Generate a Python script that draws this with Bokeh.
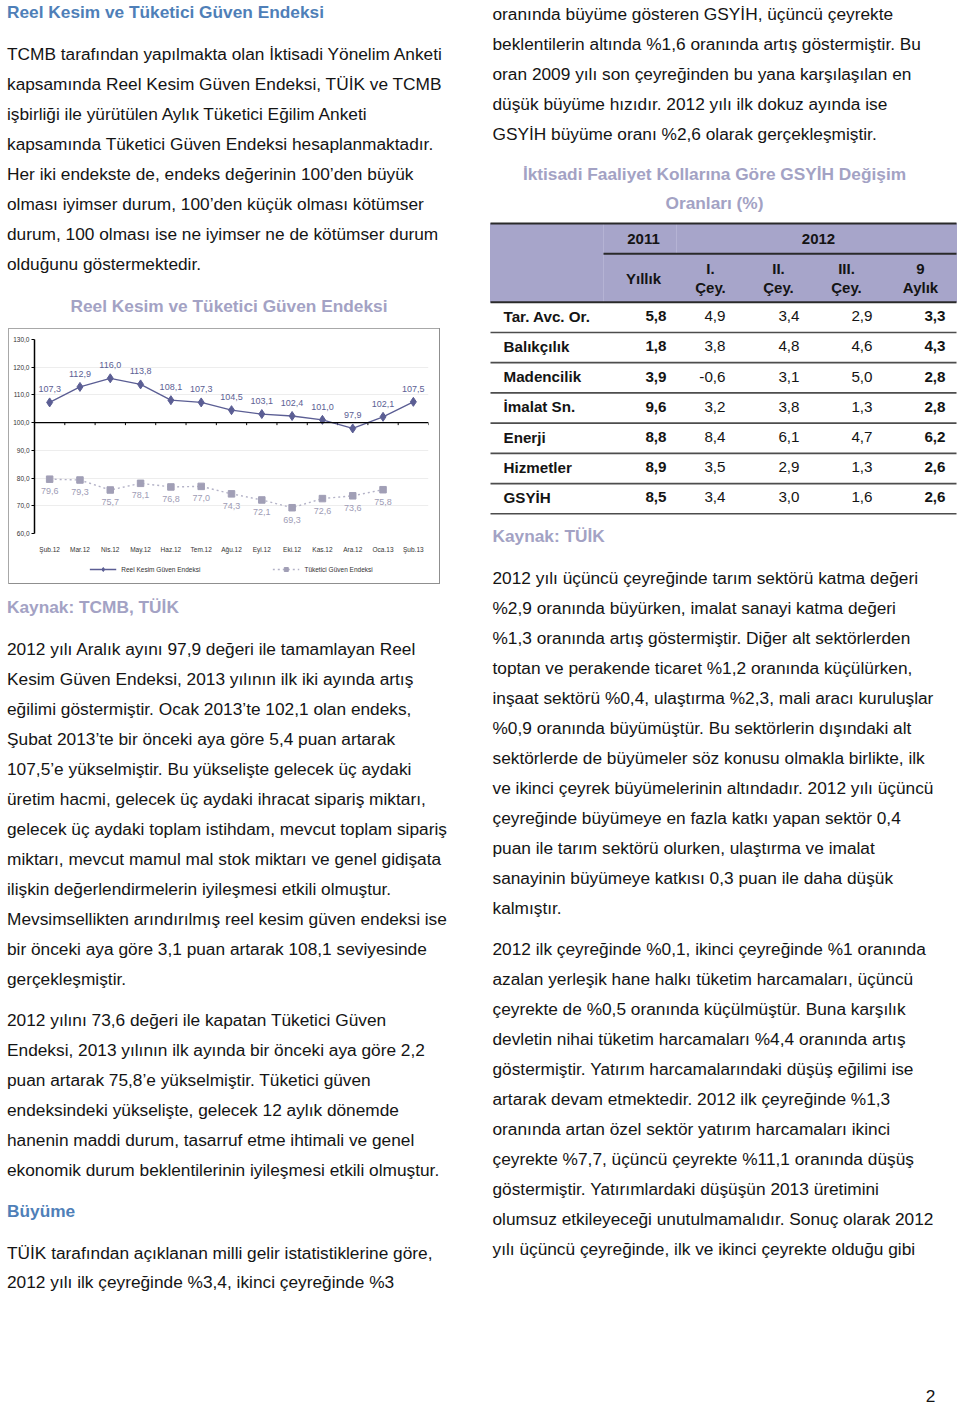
from bokeh.plotting import figure
from bokeh.models import (Range1d, Span, Legend, LegendItem, FixedTicker, Spacer)
from bokeh.layouts import row, column
from bokeh.embed import file_html
from bokeh.resources import INLINE
from bokeh.core.properties import value

# ---------------- data ----------------
months = ["Şub.12", "Mar.12", "Nis.12", "May.12", "Haz.12", "Tem.12", "Ağu.12",
          "Eyl.12", "Eki.12", "Kas.12", "Ara.12", "Oca.13", "Şub.13"]
reel_kesim = [107.3, 112.9, 116.0, 113.8, 108.1, 107.3, 104.5, 103.1, 102.4,
              101.0, 97.9, 102.1, 107.5]
tuketici = [79.6, 79.3, 75.7, 78.1, 76.8, 77.0, 74.3, 72.1, 69.3, 72.6, 73.6, 75.8]
y_ticks = [60, 70, 80, 90, 100, 110, 120, 130]
series_names = ["Reel Kesim Güven Endeksi", "Tüketici Güven Endeksi"]

sectors = ["Tar. Avc. Or.", "Balıkçılık", "Madencilik", "İmalat Sn.", "Enerji",
           "Hizmetler", "GSYİH"]
yillik_2011 = [5.8, 1.8, 3.9, 9.6, 8.8, 8.9, 8.5]
cey1_2012 = [4.9, 3.8, -0.6, 3.2, 8.4, 3.5, 3.4]
cey2_2012 = [3.4, 4.8, 3.1, 3.8, 6.1, 2.9, 3.0]
cey3_2012 = [2.9, 4.6, 5.0, 1.3, 4.7, 1.3, 1.6]
aylik9_2012 = [3.3, 4.3, 2.8, 2.8, 6.2, 2.6, 2.6]
year_headers = ["2011", "2012"]
col_head_top = ["", "I.", "II.", "III.", "9"]
col_head_bottom = ["Yıllık", "Çey.", "Çey.", "Çey.", "Aylık"]

head1 = "Reel Kesim ve Tüketici Güven Endeksi"
para1 = [
    "TCMB tarafından yapılmakta olan İktisadi Yönelim Anketi",
    "kapsamında Reel Kesim Güven Endeksi, TÜİK ve TCMB",
    "işbirliği ile yürütülen Aylık Tüketici Eğilim Anketi",
    "kapsamında Tüketici Güven Endeksi hesaplanmaktadır.",
    "Her iki endekste de, endeks değerinin 100’den büyük",
    "olması iyimser durum, 100’den küçük olması kötümser",
    "durum, 100 olması ise ne iyimser ne de kötümser durum",
    "olduğunu göstermektedir.",
]
chart_title = "Reel Kesim ve Tüketici Güven Endeksi"
source1 = "Kaynak: TCMB, TÜİK"
para2 = [
    "2012 yılı Aralık ayını 97,9 değeri ile tamamlayan Reel",
    "Kesim Güven Endeksi, 2013 yılının ilk iki ayında artış",
    "eğilimi göstermiştir. Ocak 2013’te 102,1 olan endeks,",
    "Şubat 2013’te bir önceki aya göre 5,4 puan artarak",
    "107,5’e yükselmiştir. Bu yükselişte gelecek üç aydaki",
    "üretim hacmi, gelecek üç aydaki ihracat sipariş miktarı,",
    "gelecek üç aydaki toplam istihdam, mevcut toplam sipariş",
    "miktarı, mevcut mamul mal stok miktarı ve genel gidişata",
    "ilişkin değerlendirmelerin iyileşmesi etkili olmuştur.",
    "Mevsimsellikten arındırılmış reel kesim güven endeksi ise",
    "bir önceki aya göre 3,1 puan artarak 108,1 seviyesinde",
    "gerçekleşmiştir.",
]
para3 = [
    "2012 yılını 73,6 değeri ile kapatan Tüketici Güven",
    "Endeksi, 2013 yılının ilk ayında bir önceki aya göre 2,2",
    "puan artarak 75,8’e yükselmiştir. Tüketici güven",
    "endeksindeki yükselişte, gelecek 12 aylık dönemde",
    "hanenin maddi durum, tasarruf etme ihtimali ve genel",
    "ekonomik durum beklentilerinin iyileşmesi etkili olmuştur.",
]
head2 = "Büyüme"
para4 = [
    "TÜİK tarafından açıklanan milli gelir istatistiklerine göre,",
    "2012 yılı ilk çeyreğinde %3,4, ikinci çeyreğinde %3",
]
para5 = [
    "oranında büyüme gösteren GSYİH, üçüncü çeyrekte",
    "beklentilerin altında %1,6 oranında artış göstermiştir. Bu",
    "oran 2009 yılı son çeyreğinden bu yana karşılaşılan en",
    "düşük büyüme hızıdır. 2012 yılı ilk dokuz ayında ise",
    "GSYİH büyüme oranı %2,6 olarak gerçekleşmiştir.",
]
table_title = ["İktisadi Faaliyet Kollarına Göre GSYİH Değişim", "Oranları (%)"]
source2 = "Kaynak: TÜİK"
para6 = [
    "2012 yılı üçüncü çeyreğinde tarım sektörü katma değeri",
    "%2,9 oranında büyürken, imalat sanayi katma değeri",
    "%1,3 oranında artış göstermiştir. Diğer alt sektörlerden",
    "toptan ve perakende ticaret %1,2 oranında küçülürken,",
    "inşaat sektörü %0,4, ulaştırma %2,3, mali aracı kuruluşlar",
    "%0,9 oranında büyümüştür. Bu sektörlerin dışındaki alt",
    "sektörlerde de büyümeler söz konusu olmakla birlikte, ilk",
    "ve ikinci çeyrek büyümelerinin altındadır. 2012 yılı üçüncü",
    "çeyreğinde büyümeye en fazla katkı yapan sektör 0,4",
    "puan ile tarım sektörü olurken, ulaştırma ve imalat",
    "sanayinin büyümeye katkısı 0,3 puan ile daha düşük",
    "kalmıştır.",
]
para7 = [
    "2012 ilk çeyreğinde %0,1, ikinci çeyreğinde %1 oranında",
    "azalan yerleşik hane halkı tüketim harcamaları, üçüncü",
    "çeyrekte de %0,5 oranında küçülmüştür. Buna karşılık",
    "devletin nihai tüketim harcamaları %4,4 oranında artış",
    "göstermiştir. Yatırım harcamalarındaki düşüş eğilimi ise",
    "artarak devam etmektedir. 2012 ilk çeyreğinde %1,3",
    "oranında artan özel sektör yatırım harcamaları ikinci",
    "çeyrekte %7,7, üçüncü çeyrekte %11,1 oranında düşüş",
    "göstermiştir. Yatırımlardaki düşüşün 2013 üretimini",
    "olumsuz etkileyeceği unutulmamalıdır. Sonuç olarak 2012",
    "yılı üçüncü çeyreğinde, ilk ve ikinci çeyrekte olduğu gibi",
]
page_no = "2"

# ---------------- styles ----------------
FONT = "Liberation Sans"
BODY = "17.3px"
BLACK = "#141414"
BLUE = "#4f7fb8"
LAV = "#a3a2c4"
REEL_C = "#5b5e94"
TUK_C = "#a19fb6"
TUK_LINE = "#b3b2c7"
BOX_C = "#a8a8a8"


def fmt(v):
    return f"{v:.1f}".replace(".", ",")


def page_fig(width, height, x0, x1, y0, y1):
    p = figure(width=width, height=height, x_range=Range1d(x0, x1),
               y_range=Range1d(y1, y0), x_axis_location=None,
               y_axis_location=None, toolbar_location=None,
               output_backend="svg", min_border=0, outline_line_color=None)
    p.grid.visible = False
    return p


def txt(p, x, ys, lines, size=BODY, color=BLACK, style="normal", align="left"):
    if isinstance(x, (int, float)):
        x = [x] * len(lines)
    p.text(x=x, y=ys, text=lines, text_font=value(FONT), text_font_size=size,
           text_color=color, text_font_style=style, text_align=align,
           text_baseline="middle")


def para(p, x, y0, lines, step=30.0, **kw):
    txt(p, x, [y0 + step * i for i in range(len(lines))], lines, **kw)


def bar(w, h, color=BOX_C):
    return Spacer(width=w, height=h, styles={"background-color": color})


# ---------------- left column ----------------
L1 = page_fig(480, 328, 0, 480, 0, 328)
txt(L1, 6.5, [11.5], [head1], color=BLUE, style="bold")
para(L1, 6.5, 53.5, para1)
txt(L1, 228.5, [305], [chart_title], color=LAV, style="bold", align="center")

# chart (inner canvas 430 x 226 + legend strip 430 x 28, framed by 1px bars)
c = figure(width=430, height=226, x_range=Range1d(-0.5, len(months) - 0.5),
           y_range=Range1d(min(y_ticks), max(y_ticks)), toolbar_location=None,
           output_backend="svg", min_border_left=25, min_border_right=11,
           min_border_top=10, min_border_bottom=15)
c.outline_line_color = None
c.xgrid.visible = False
c.ygrid.grid_line_color = "#ededed"
c.ygrid.ticker = FixedTicker(ticks=y_ticks)

c.yaxis.ticker = FixedTicker(ticks=y_ticks)
c.yaxis.major_label_overrides = {t: fmt(t) for t in y_ticks}
c.yaxis.axis_line_color = "#000000"
c.yaxis.axis_line_width = 1.5
c.yaxis.major_tick_out = 3
c.yaxis.major_tick_in = 0
c.yaxis.major_tick_line_color = "#000000"
c.yaxis.minor_tick_line_color = None
c.yaxis.major_label_standoff = 2

c.xaxis.ticker = FixedTicker(ticks=list(range(len(months))))
c.xaxis.major_label_overrides = {i: m for i, m in enumerate(months)}
c.xaxis.axis_line_color = None
c.xaxis.major_tick_line_color = None
c.xaxis.minor_tick_line_color = None
c.xaxis.major_label_standoff = 6

for ax in (c.xaxis, c.yaxis):
    ax.major_label_text_font = FONT
    ax.major_label_text_font_size = "6.5px"
    ax.major_label_text_color = "#333333"

c.add_layout(Span(location=100, dimension="width", line_color="#000000",
                  line_width=1.3))
bounds = [i + 0.5 for i in range(len(months))]
c.segment(x0=bounds, y0=[100] * len(bounds), x1=bounds, y1=[99.1] * len(bounds),
          line_color="#000000", line_width=1)

xr = list(range(len(reel_kesim)))
xt = list(range(len(tuketici)))
c.line(xr, reel_kesim, line_color=REEL_C, line_width=1.3)
c.scatter(xr, reel_kesim, marker="diamond", size=9, color=REEL_C)
c.text(xr, reel_kesim, text=[fmt(v) for v in reel_kesim], y_offset=-13,
       text_align="center", text_baseline="middle", text_font=value(FONT),
       text_font_size="9px", text_color=REEL_C)

c.line(xt, tuketici, line_color=TUK_LINE, line_width=1.4, line_dash="2 3")
c.scatter(xt, tuketici, marker="square", size=6.5, color=TUK_C)
c.text(xt, tuketici, text=[fmt(v) for v in tuketici], y_offset=12,
       text_align="center", text_baseline="middle", text_font=value(FONT),
       text_font_size="9px", text_color="#9e9cb5")

# legend strip: same series drawn again, but outside this strip's visible
# range, so only the legend glyphs show
lf = figure(width=430, height=28, x_range=Range1d(-0.5, len(months) - 0.5),
            y_range=Range1d(0, 1),
            x_axis_location=None, y_axis_location=None, toolbar_location=None,
            output_backend="svg", min_border_left=25, min_border_right=11,
            min_border_top=0, min_border_bottom=0, outline_line_color=None)
lf.grid.visible = False
lg_l1 = lf.line(xr, reel_kesim, line_color=REEL_C, line_width=1.3)
lg_p1 = lf.scatter(xr, reel_kesim, marker="diamond", size=7, color=REEL_C)
lg_l2 = lf.line(xt, tuketici, line_color=TUK_LINE, line_width=1.4, line_dash="2 3")
lg_p2 = lf.scatter(xt, tuketici, marker="square", size=5, color=TUK_C)
leg = Legend(items=[LegendItem(label=series_names[0], renderers=[lg_l1, lg_p1]),
                    LegendItem(label=series_names[1], renderers=[lg_l2, lg_p2])],
             orientation="horizontal", location="center", spacing=72,
             glyph_width=27, glyph_height=10, label_standoff=5, padding=0,
             margin=0, border_line_color=None, background_fill_color=None,
             label_text_font=FONT, label_text_font_size="6.5px",
             label_text_color="#333333")
lf.add_layout(leg)

chart_box = row(
    Spacer(width=8, height=256),
    bar(1, 256),
    column(bar(430, 1), c, lf, bar(430, 1, "#8f8f8f")),
    bar(1, 256, "#8f8f8f"),
)

L3 = page_fig(480, 820, 0, 480, 584, 1404)
txt(L3, 6.5, [606.7], [source1], color=LAV, style="bold")
para(L3, 6.5, 648.5, para2)
para(L3, 6.5, 1019.0, para3)
txt(L3, 6.5, [1210.7], [head2], color=BLUE, style="bold")
para(L3, 6.5, 1252.3, para4, step=29.5)

left_col = column(L1, chart_box, L3)

# ---------------- right column ----------------
RX0, RX1 = 480, 959
RW = RX1 - RX0
R1 = page_fig(RW, 215, RX0, RX1, 0, 215)
para(R1, 492, 13.0, para5)
txt(R1, 714, [173.3, 202.7], table_title, color=LAV, style="bold", align="center")

R2 = page_fig(RW, 305, RX0, RX1, 215, 520)
TL, TR = 490, 956
R2.quad(left=[TL], right=[TR], top=[223], bottom=[301.7], color="#a7a5ca")
R2.segment(x0=[603, 676], y0=[223, 223], x1=[603, 676], y1=[301.7, 253],
           line_color="#b5b3d4", line_width=1)
row_h = 30.23
row_top = 301.7
n = len(sectors)
row_lines = [row_top + row_h * (i + 1) for i in range(n)]
R2.segment(x0=[TL] * n, y0=row_lines, x1=[TR] * n, y1=row_lines,
           line_color="#4d4d4d", line_width=1.6)
R2.segment(x0=[TL, 603, TL], y0=[223, 253.3, row_top], x1=[TR, TR, TR],
           y1=[223, 253.3, row_top], line_color="#2a2a2a", line_width=2)

HS = "15px"
txt(R2, [643, 818], [238, 238], year_headers, size=HS, style="bold", align="center")
head_x = [643, 710, 778, 846, 920]
txt(R2, head_x[1:], [268] * 4, col_head_top[1:], size=HS, style="bold", align="center")
txt(R2, head_x, [278, 287, 287, 287, 287], col_head_bottom, size=HS, style="bold",
    align="center")

row_y = [row_top + row_h * (i + 0.5) - 1.2 for i in range(n)]
txt(R2, 503, row_y, sectors, size="15.2px", style="bold")
cols = [(666, yillik_2011, "bold"), (725, cey1_2012, "normal"),
        (799, cey2_2012, "normal"), (872, cey3_2012, "normal"),
        (945, aylik9_2012, "bold")]
for xpos, vals, st in cols:
    txt(R2, xpos, row_y, [fmt(v) for v in vals], size="15.2px", style=st,
        align="right")

R3 = page_fig(RW, 884, RX0, RX1, 520, 1404)
txt(R3, 492, [535], [source2], color=LAV, style="bold")
para(R3, 492, 577.0, para6)
para(R3, 492, 948.0, para7)
txt(R3, 930, [1395], [page_no], align="center")

right_col = column(R1, R2, R3)

page = row(left_col, right_col)

open("out.html", "w").write(file_html(page, INLINE))
